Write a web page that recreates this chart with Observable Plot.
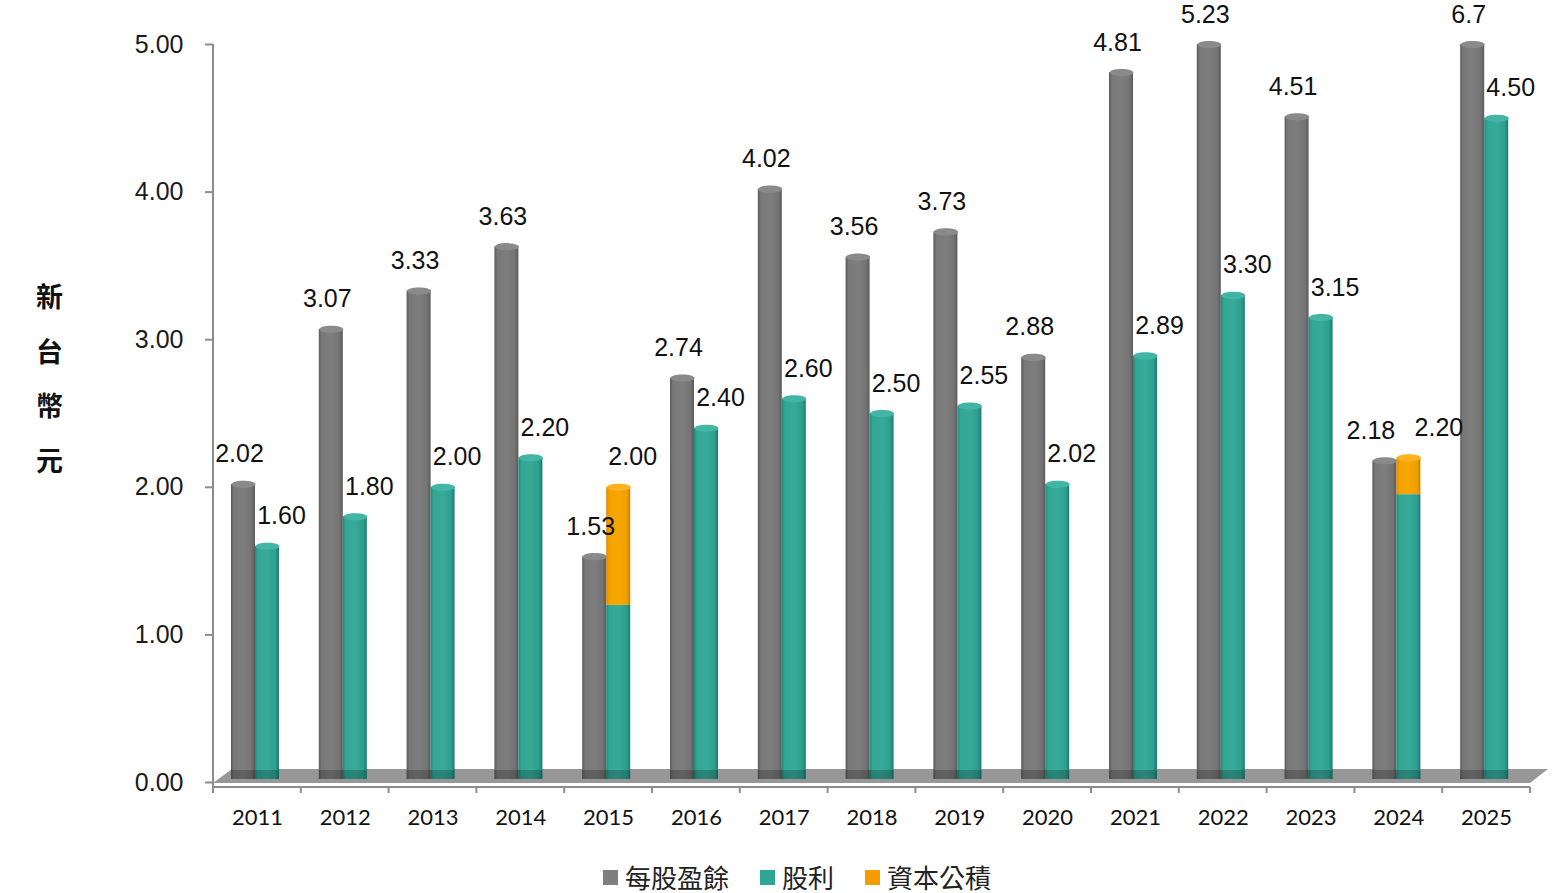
<!DOCTYPE html>
<html><head><meta charset="utf-8">
<script src="https://cdn.jsdelivr.net/npm/d3@7"></script>
<script src="https://cdn.jsdelivr.net/npm/@observablehq/plot@0.6"></script>
<style>
body{margin:0;background:#fff;}
#chart{position:absolute;left:0;top:0;}
#legend{position:absolute;top:862px;left:603px;display:flex;align-items:center;font-family:"Noto Sans CJK TC";font-size:26px;line-height:30px;color:#222;}
.item{display:flex;align-items:center;margin-right:31px;}
.sw{width:15px;height:15px;display:inline-block;margin-right:7px;}
</style></head><body>
<div id="chart"></div>
<div id="legend"></div>
<script>
// ---- data ----
const years = ["2011","2012","2013","2014","2015","2016","2017","2018","2019","2020","2021","2022","2023","2024","2025"];
const eps = [2.02,3.07,3.33,3.63,1.53,2.74,4.02,3.56,3.73,2.88,4.81,5.23,4.51,2.18,6.7];
const epsLabels = ["2.02","3.07","3.33","3.63","1.53","2.74","4.02","3.56","3.73","2.88","4.81","5.23","4.51","2.18","6.7"];
const dividend = [1.60,1.80,2.00,2.20,2.00,2.40,2.60,2.50,2.55,2.02,2.89,3.30,3.15,2.20,4.50];
const capitalReserve = [0,0,0,0,0.8,0,0,0,0,0,0,0,0,0.25,0];
const yTicks = [0,1,2,3,4,5];
const seriesNames = ["每股盈餘","股利","資本公積"];
const seriesColors = ["#7f7f7f","#2fa595","#f59c00"];

const rows = years.map((year,i)=>({
  year, eps: eps[i], epsLabel: epsLabels[i],
  total: dividend[i], cap: capitalReserve[i], cash: +(dividend[i]-capitalReserve[i]).toFixed(2),
  close: Math.abs(eps[i]-dividend[i]) < 0.25
}));

const W = 1566, H = 855, ML = 213, MR = 36, MT = 44, MB = 73;
const BW = (W-ML-MR)/years.length;
// bar geometry inside each band (pixels from band start)
const gS = 18, gE = 42, tS = 42, tE = 66;
const gC = (gS+gE)/2 - BW/2, tC = (tS+tE)/2 - BW/2;

const ellipse = {draw(ctx,size){
  const rx = Math.sqrt(size/Math.PI), ry = rx*0.3, k = 0.5523;
  ctx.moveTo(rx,0);
  ctx.bezierCurveTo(rx,ry*k,rx*k,ry,0,ry);
  ctx.bezierCurveTo(-rx*k,ry,-rx,ry*k,-rx,0);
  ctx.bezierCurveTo(-rx,-ry*k,-rx*k,-ry,0,-ry);
  ctx.bezierCurveTo(rx*k,-ry,rx,-ry*k,rx,0);
  ctx.closePath();
}};

function defs(){
  const d = document.createElementNS("http://www.w3.org/2000/svg","defs");
  const grad = (id, s) => `<linearGradient id="${id}" x1="0" x2="1" y1="0" y2="0">${s.map(([o,c])=>`<stop offset="${o}" stop-color="${c}"/>`).join("")}</linearGradient>`;
  d.innerHTML =
    grad("gGray",[[0,"#5a5a5a"],[0.12,"#787878"],[0.5,"#7e7e7e"],[0.85,"#747474"],[1,"#5a5a5a"]]) +
    grad("gTeal",[[0,"#1f8a7c"],[0.12,"#33a595"],[0.5,"#37aa9a"],[0.85,"#2e9f8f"],[1,"#1b7c70"]]) +
    grad("gOrange",[[0,"#d98a00"],[0.12,"#f5a200"],[0.5,"#f8a700"],[0.85,"#f0a000"],[1,"#c98000"]]);
  return d;
}

function floor(index, scales, values, dims){
  const x0 = dims.marginLeft, x1 = dims.width - dims.marginRight, y0 = scales.y(0);
  const p = d3.path();
  p.moveTo(x0, y0+1); p.lineTo(x0+19, y0-13); p.lineTo(x1+18, y0-13); p.lineTo(x1, y0+1); p.closePath();
  return d3.create("svg:path").attr("d", p.toString()).attr("fill","#979797").node();
}

function axisLines(index, scales, values, dims){
  const x0 = dims.marginLeft, x1 = dims.width - dims.marginRight, y0 = scales.y(0);
  const bw = (x1-x0)/years.length;
  const g = d3.create("svg:g").attr("stroke","#8c8c8c").attr("stroke-width",2).attr("fill","none");
  g.append("line").attr("x1",x0).attr("x2",x0).attr("y1",scales.y(yTicks[yTicks.length-1])).attr("y2",y0+6);
  g.append("line").attr("x1",x0).attr("x2",x1).attr("y1",y0+5).attr("y2",y0+5);
  for (let i=0;i<=years.length;i++){
    g.append("line").attr("x1",x0+i*bw).attr("x2",x0+i*bw).attr("y1",y0+5).attr("y2",y0+11);
  }
  return g.node();
}

const fmt = d3.format(".2f");
const plot = Plot.plot({
  width: W, height: H,
  marginLeft: ML, marginRight: MR, marginTop: MT, marginBottom: MB,
  x: {type:"band", domain: years, padding: 0, round: false, label: null},
  y: {domain:[0,5], clamp: true, label: null},
  style: {fontFamily:"Liberation Sans, Arial, sans-serif", background:"#fff"},
  marks: [
    defs,
    floor,
    Plot.barY(rows, {x:"year", y1:0, y2:"eps", fill:"url(#gGray)", insetLeft:gS, insetRight:BW-gE, insetBottom:3}),
    Plot.barY(rows, {x:"year", y1:0, y2:"cash", fill:"url(#gTeal)", insetLeft:tS, insetRight:BW-tE, insetBottom:3}),
    Plot.barY(rows.filter(d=>d.cap>0), {x:"year", y1:"cash", y2:"total", fill:"url(#gOrange)", insetLeft:tS, insetRight:BW-tE}),
    Plot.dot(rows, {x:"year", y:"eps", r:12, symbol: ellipse, fill:"#8a8a8a", stroke:"none", dx:gC}),
    Plot.dot(rows.filter(d=>d.cap===0), {x:"year", y:"total", r:12, symbol: ellipse, fill:"#43b5a4", stroke:"none", dx:tC}),
    Plot.dot(rows.filter(d=>d.cap>0), {x:"year", y:"total", r:12, symbol: ellipse, fill:"#ffb21e", stroke:"none", dx:tC}),
    Plot.barY(rows, {x:"year", y1:0, y2:0, insetTop:-12, insetBottom:3, insetLeft:gS, insetRight:BW-tE, fill:"#000", fillOpacity:0.22}),
    axisLines,
    Plot.axisY({ticks: yTicks, tickSize: 8, tickFormat: () => "", stroke:"#8c8c8c", strokeWidth: 2}),
    Plot.axisY({ticks: yTicks, tickSize: 0, tickPadding: 30, tickFormat: fmt, fontSize: 25, fill:"#1a1a1a", label: null}),
    Plot.axisX({tickSize: 0, tickPadding: 27, fontSize: 22, fontFamily: "Lato", fill:"#111", label: null}),
    Plot.text(rows.filter(d=>!d.close), {x:"year", y:"eps", text:"epsLabel", dx: gC-4, dy:-30, fontSize:25, fill:"#111"}),
    Plot.text(rows.filter(d=>d.close), {x:"year", y:"eps", text:"epsLabel", dx: gC-14, dy:-30, fontSize:25, fill:"#111"}),
    Plot.text(rows.filter(d=>!d.close), {x:"year", y:"total", text: d=>fmt(d.total), dx: tC+14, dy:-30, fontSize:25, fill:"#111"}),
    Plot.text(rows.filter(d=>d.close), {x:"year", y:"total", text: d=>fmt(d.total), dx: tC+30, dy:-30, fontSize:25, fill:"#111"}),
    Plot.text(["新\n台\n幣\n元"], {frameAnchor:"left", text: d=>d, dx:-164, dy:-42, textAnchor:"middle", lineHeight:2.03, fontSize:27, fontWeight:"bold", fontFamily:"Noto Sans CJK TC", fill:"#111"})
  ]
});
document.getElementById("chart").appendChild(plot);

const legend = document.getElementById("legend");
seriesNames.forEach((n,i)=>{
  const item = document.createElement("div"); item.className="item";
  const sw = document.createElement("span"); sw.className="sw"; sw.style.background = seriesColors[i];
  const t = document.createElement("span"); t.textContent = n;
  item.appendChild(sw); item.appendChild(t); legend.appendChild(item);
});
</script>
</body></html>
